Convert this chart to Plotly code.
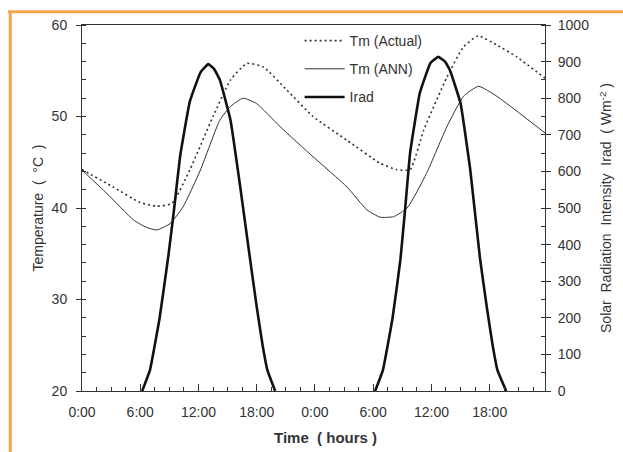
import plotly.graph_objects as go

# ---- data (hours from start) ----
actual_h = [0, 3.2, 6.0, 7.7, 9.25, 11.1, 13.5, 15.3, 17.0, 18.7, 21.1, 23.8, 27.3, 30.7, 32.4, 33.8, 35.2, 37.6, 39.3, 40.8, 42.75, 44.8, 47.7]
actual_t = [44.2, 42.3, 40.6, 40.2, 40.5, 44.15, 50.0, 54.0, 55.8, 55.4, 52.9, 50.0, 47.4, 44.9, 44.2, 44.2, 48.5, 54.3, 57.6, 58.8, 57.8, 56.5, 54.2]

ann_h = [0, 2.55, 5.3, 6.6, 7.7, 9.07, 10.4, 12.2, 14.2, 15.3, 16.6, 18.0, 20.4, 23.8, 27.3, 29.35, 30.7, 32.1, 33.5, 35.5, 37.6, 39.3, 40.85, 42.75, 47.7]
ann_t = [44.15, 41.6, 38.7, 37.9, 37.6, 38.3, 40.1, 44.15, 49.6, 51.1, 52.0, 51.4, 48.9, 45.6, 42.3, 39.8, 39.0, 39.05, 40.0, 43.8, 48.9, 52.2, 53.3, 52.2, 48.2]

# two daytime humps of solar radiation (None separates them)
irad_h = [6.2, 7.0, 8.0, 8.9, 9.5, 10.1, 11.1, 12.2, 13.0, 13.6, 14.2, 15.3, 16.3, 17.3, 18.0, 18.6, 19.1, 19.9, None,
          30.2, 31.0, 32.0, 32.8, 33.3, 33.8, 34.8, 35.9, 36.7, 37.4, 37.9, 39.0, 40.0, 41.0, 41.7, 42.3, 42.8, 43.7]
irad_v = [0, 57, 200, 370, 500, 640, 790, 870, 893, 880, 850, 740, 558, 363, 230, 126, 57, 0, None,
          0, 57, 200, 358, 500, 650, 814, 896, 913, 900, 877, 786, 604, 363, 230, 126, 57, 0]

x_tickvals = [0, 6, 12, 18, 24, 30, 36, 42]
x_ticktext = ["0:00", "6:00", "12:00", "18:00", "0:00", "6:00", "12:00", "18:00"]

FONT = "Liberation Sans, Arial, sans-serif"
INK = "#333333"
NB = "\u00a0"

fig = go.Figure()
fig.add_trace(go.Scatter(x=actual_h, y=actual_t, name="Tm (Actual)", mode="lines",
                         line=dict(color=INK, width=1.6, dash="2px,3px", shape="spline", smoothing=0.5),
                         legendgroup="a"))
fig.add_trace(go.Scatter(x=ann_h, y=ann_t, name="Tm (ANN)", mode="lines",
                         line=dict(color=INK, width=1, shape="spline", smoothing=0.5),
                         legendgroup="b"))
fig.add_trace(go.Scatter(x=irad_h, y=irad_v, name="Irad", mode="lines", yaxis="y2",
                         connectgaps=False,
                         line=dict(color="#111111", width=2.6, shape="spline", smoothing=0.3),
                         legendgroup="c"))

fig.update_layout(
    width=623, height=452,
    margin=dict(l=82, r=78, t=25, b=61),
    paper_bgcolor="white", plot_bgcolor="white",
    font=dict(family=FONT, size=14, color=INK),
    showlegend=True,
    legend=dict(x=0.47, y=1.0, xanchor="left", yanchor="top", bgcolor="rgba(0,0,0,0)",
                font=dict(size=14, color=INK), itemwidth=40, tracegroupgap=7),
    xaxis=dict(range=[0, 47.7], tickvals=x_tickvals, ticktext=x_ticktext,
               showgrid=False, zeroline=False, showline=True, linecolor=INK, linewidth=1,
               mirror=True, ticks="inside", ticklen=7, tickcolor=INK, ticklabelstandoff=8,
               tickfont=dict(size=14, color=INK),
               minor=dict(dtick=1.5, tick0=0, ticks="inside", ticklen=4, tickcolor=INK)),
    yaxis=dict(range=[20, 60], dtick=10, showgrid=False, zeroline=False, showline=True,
               linecolor=INK, linewidth=1, ticks="outside", ticklen=5, tickcolor=INK,
               ticklabelstandoff=6, tickfont=dict(size=14, color=INK),
               minor=dict(dtick=2, ticks="inside", ticklen=4, tickcolor=INK),
               title=dict(text=f"Temperature{NB}{NB}({NB}{NB}°C{NB}{NB})",
                          font=dict(size=14, color=INK), standoff=4)),
    yaxis2=dict(range=[0, 1000], dtick=100, overlaying="y", side="right", showgrid=False,
                zeroline=False, showline=True, linecolor=INK, linewidth=1,
                ticks="outside", ticklen=5, tickcolor=INK, ticklabelstandoff=4,
                tickfont=dict(size=14, color=INK),
                minor=dict(dtick=50, ticks="inside", ticklen=4, tickcolor=INK),
                title=dict(text=f"Solar{NB}{NB}Radiation{NB}{NB}Intensity{NB}{NB}Irad{NB}{NB}({NB}Wm<sup>-2</sup>{NB})",
                           font=dict(size=14, color=INK), standoff=13)),
    annotations=[dict(text=f"<b>Time{NB}{NB}({NB}hours{NB})</b>", xref="paper", yref="paper",
                      x=0.525, y=-0.126, xanchor="center", yanchor="middle", showarrow=False,
                      font=dict(size=15, color=INK))],
)

# decorative orange frame of the original figure
fig.add_shape(type="line", xref="paper", yref="paper", x0=-0.16, x1=1.2, y0=1.036, y1=1.036,
              line=dict(color="#F5A54E", width=3))
fig.add_shape(type="line", xref="paper", yref="paper", x0=-0.155, x1=-0.155, y0=1.036, y1=-0.2,
              line=dict(color="#F5A54E", width=3))

fig.write_html("out.html")
